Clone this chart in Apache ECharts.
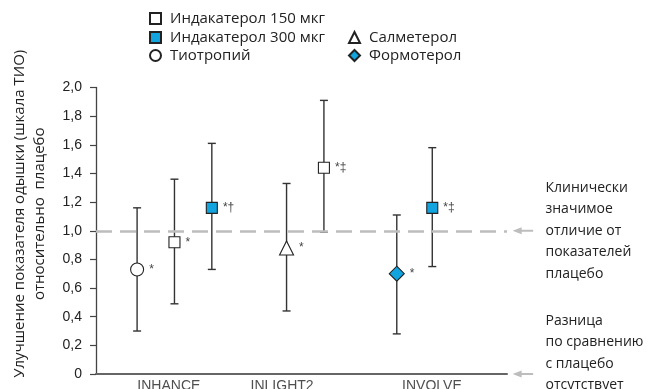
<!DOCTYPE html>
<html>
<head>
<meta charset="utf-8">
<script src="https://cdn.jsdelivr.net/npm/echarts@6/dist/echarts.min.js"></script>
<style>
  html, body { margin: 0; padding: 0; background: #fff; }
  #chart { width: 654px; height: 389px; }
</style>
</head>
<body>
<div id="chart"></div>
<script>
// Studies and where their group labels sit on the horizontal scale
const studies = ['INHANCE', 'INLIGHT2', 'INVOLVE'];
const studyPos = [1.95, 4.98, 8.99];

// Treatments (legend entries)
const drugs = ['Индакатерол 150 мкг', 'Индакатерол 300 мкг', 'Салметерол', 'Тиотропий', 'Формотерол'];

// One entry per estimate: treatment index, horizontal slot, mean, 95% CI, significance note
const pointDrug = [3, 0, 1, 2, 0, 4, 1];
const pointX    = [1.1, 2.1, 3.1, 5.1, 6.1, 8.05, 9.0];
const pointMean = [0.73, 0.92, 1.16, 0.88, 1.44, 0.70, 1.16];
const pointLow  = [0.30, 0.49, 0.73, 0.44, 0.99, 0.28, 0.75];
const pointHigh = [1.16, 1.36, 1.61, 1.33, 1.91, 1.11, 1.58];
const pointNote = ['*', '*', '*†', '*', '*‡', '*', '*‡'];

// Y axis ticks
const yMin = 0, yMax = 2.0, yStep = 0.2;

// Reference thresholds with their explanations
const refLevels = [1.0, 0];
const refTextY  = [1.0, 0.147];
const refTexts  = [
  'Клинически\nзначимое\nотличие от\nпоказателей\nплацебо',
  'Разница\nпо сравнению\nс плацебо\nотсутствует'
];

const FONT = '"Liberation Sans", Arial, sans-serif';
const TEXT_FONT = '"Open Sans", "Noto Sans", sans-serif';
const BLUE = '#12a4de';

const drugStyle = {
  'Индакатерол 150 мкг': { symbol: 'rect', size: 11, color: '#fff' },
  'Индакатерол 300 мкг': { symbol: 'rect', size: 11, color: BLUE },
  'Салметерол':          { symbol: 'triangle', size: 14, color: '#fff' },
  'Тиотропий':           { symbol: 'circle', size: 13, color: '#fff' },
  'Формотерол':          { symbol: 'diamond', size: 15, color: BLUE }
};

const chart = echarts.init(document.getElementById('chart'), null, { renderer: 'canvas' });

// Error bars with caps
const errorBars = {
  type: 'custom',
  z: 2,
  silent: true,
  data: pointX.map((x, i) => [x, pointLow[i], pointHigh[i]]),
  renderItem: function (params, api) {
    const top = api.coord([api.value(0), api.value(2)]);
    const bot = api.coord([api.value(0), api.value(1)]);
    const cap = 4;
    const style = { stroke: '#333', lineWidth: 1.4 };
    return {
      type: 'group',
      children: [
        { type: 'line', shape: { x1: top[0], y1: top[1], x2: bot[0], y2: bot[1] }, style: style },
        { type: 'line', shape: { x1: top[0] - cap, y1: top[1], x2: top[0] + cap, y2: top[1] }, style: style },
        { type: 'line', shape: { x1: bot[0] - cap, y1: bot[1], x2: bot[0] + cap, y2: bot[1] }, style: style }
      ]
    };
  }
};

// Point estimates, one series per treatment
const pointSeries = drugs.map((name, d) => {
  const st = drugStyle[name];
  const data = [];
  pointDrug.forEach((di, i) => {
    if (di === d) data.push({ value: [pointX[i], pointMean[i]], note: pointNote[i] });
  });
  return {
    name: name,
    type: 'scatter',
    z: 5,
    symbol: st.symbol,
    symbolSize: st.size,
    itemStyle: { color: st.color, borderColor: '#222', borderWidth: 1.1, opacity: 1 },
    label: {
      show: true,
      position: 'right',
      distance: 5,
      color: '#444',
      fontSize: 12,
      fontFamily: FONT,
      formatter: p => p.data.note
    },
    emphasis: { disabled: true },
    data: data
  };
});

// Study names under the horizontal axis
const studyLabels = {
  type: 'scatter',
  silent: true,
  symbolSize: 0,
  data: studyPos.map((x, i) => ({ value: [x, yMin], name: studies[i] })),
  label: {
    show: true,
    position: 'bottom',
    distance: 5,
    color: '#222',
    fontSize: 14,
    fontFamily: FONT,
    formatter: p => p.name
  }
};

// Dashed line for the clinically relevant threshold
const thresholdLine = {
  type: 'line',
  data: [],
  silent: true,
  markLine: {
    symbol: 'none',
    silent: true,
    label: { show: false },
    lineStyle: { color: '#bdbdbd', width: 2.5, type: [16, 8] },
    data: [{ yAxis: refLevels[0] }]
  }
};

// Grey arrows and explanatory notes to the right of the plot
const notes = {
  type: 'custom',
  silent: true,
  clip: false,
  data: refLevels.map((y, i) => [y, refTextY[i]]),
  renderItem: function (params, api) {
    const i = params.dataIndex;
    const a = api.coord([11.15, api.value(0)]);
    const b = api.coord([11.7, api.value(0)]);
    const t = api.coord([12.03, api.value(1)]);
    const grey = '#bdbdbd';
    return {
      type: 'group',
      children: [
        { type: 'line', shape: { x1: a[0] + 6, y1: a[1], x2: b[0], y2: b[1] }, style: { stroke: grey, lineWidth: 2 } },
        { type: 'polygon', shape: { points: [[a[0], a[1]], [a[0] + 9, a[1] - 3.5], [a[0] + 9, a[1] + 3.5]] }, style: { fill: grey } },
        {
          type: 'text',
          x: t[0], y: t[1],
          style: {
            text: refTexts[i],
            fill: '#222',
            font: '14px ' + TEXT_FONT,
            lineHeight: 21.5,
            verticalAlign: 'middle',
            align: 'left'
          }
        }
      ]
    };
  }
};

function legendAt(names, left, top) {
  return {
    data: names,
    left: left,
    top: top,
    orient: 'horizontal',
    itemWidth: 11,
    itemHeight: 11,
    itemGap: 10,
    padding: 0,
    selectedMode: false,
    textStyle: { fontSize: 15, color: '#222', fontFamily: TEXT_FONT, padding: [0, 0, 0, 4] }
  };
}

const option = {
  animation: false,
  backgroundColor: '#fff',
  grid: { left: 96, right: 147, top: 87.5, bottom: 15, containLabel: false, outerBoundsMode: 'none' },
  legend: [
    legendAt([drugs[0]], 149, 11),
    legendAt([drugs[1]], 149, 30),
    legendAt([drugs[3]], 149, 48),
    legendAt([drugs[2]], 348, 30),
    legendAt([drugs[4]], 348, 48)
  ],
  xAxis: {
    type: 'value',
    min: 0,
    max: 11,
    axisLine: { show: true, onZero: false, lineStyle: { color: '#666', width: 2 } },
    axisTick: { show: false },
    axisLabel: { show: false },
    splitLine: { show: false }
  },
  yAxis: {
    type: 'value',
    min: yMin,
    max: yMax,
    interval: yStep,
    name: 'Улучшение показателя одышки (шкала ТИО)\nотносительно  плацебо',
    nameLocation: 'middle',
    nameRotate: 90,
    nameGap: 46,
    nameTextStyle: {
      fontSize: 15, color: '#222', fontFamily: TEXT_FONT,
      lineHeight: 20, align: 'center', padding: [0, 0, 0, 34]
    },
    axisLine: { show: true, lineStyle: { color: '#444', width: 1.3 } },
    axisTick: { show: true, length: 6, lineStyle: { color: '#444', width: 1.2 } },
    axisLabel: {
      color: '#222',
      fontSize: 14,
      fontFamily: FONT,
      margin: 14,
      formatter: v => (v === 0 ? '0' : v.toFixed(1).replace('.', ','))
    },
    splitLine: { show: false }
  },
  series: [errorBars, thresholdLine].concat(pointSeries, [studyLabels, notes])
};

chart.setOption(option);
</script>
</body>
</html>
